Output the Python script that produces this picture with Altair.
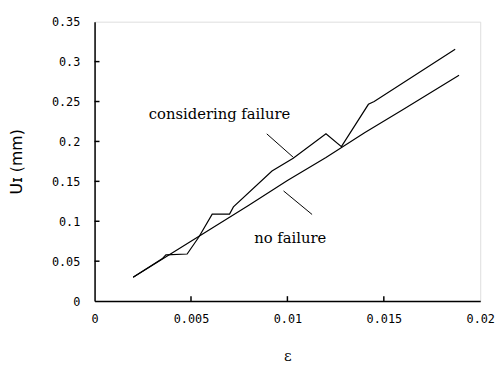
import altair as alt
import pandas as pd

# considering failure
cf_eps = [0.002, 0.0035, 0.0037, 0.0048, 0.0054, 0.0061, 0.0070, 0.0072, 0.0092, 0.0103,
          0.0120, 0.0128, 0.0142, 0.0145, 0.0187]
cf_u = [0.030, 0.053, 0.058, 0.059, 0.080, 0.109, 0.109, 0.118, 0.163, 0.179,
        0.2095, 0.1935, 0.2465, 0.250, 0.3155]
# no failure
nf_eps = [0.002, 0.004, 0.006, 0.008, 0.010, 0.012, 0.014, 0.016, 0.0189]
nf_u = [0.030, 0.060, 0.090, 0.120, 0.151, 0.180, 0.211, 0.240, 0.283]

x_ticks = [0.005, 0.01, 0.015]
y_ticks = [0.05, 0.1, 0.15, 0.2, 0.25, 0.3]

labels = ["considering failure", "no failure"]
label_eps = [0.00648, 0.01015]
label_u = [0.234, 0.0789]
leader_eps = [0.00893, 0.01031, 0.0098, 0.01128]
leader_u = [0.2095, 0.180, 0.138, 0.1085]
leader_id = ["a", "a", "b", "b"]

rows = [{"eps": e, "u": u, "s": "cf", "o": i} for i, (e, u) in enumerate(zip(cf_eps, cf_u))]
rows += [{"eps": e, "u": u, "s": "nf", "o": i} for i, (e, u) in enumerate(zip(nf_eps, nf_u))]
df = pd.DataFrame(rows)

xs = alt.Scale(domain=[0, 0.02], nice=False)
ys = alt.Scale(domain=[0, 0.35], nice=False)

base = alt.Chart(df).mark_line(color="black", strokeWidth=1.2).encode(
    x=alt.X("eps:Q", scale=xs, axis=alt.Axis(
        title="ε", values=[0, 0.005, 0.01, 0.015, 0.02], format=".3~f", ticks=False, grid=False,
        labelFont="DejaVu Sans Mono", labelFontSize=12, labelColor="black",
        labelPadding=13, labelFlush=False,
        titleFont="DejaVu Serif", titleFontSize=15, titleFontWeight="normal",
        titleColor="black", titleY=55, titleBaseline="middle",
        domainColor="black", domainWidth=1.5)),
    y=alt.Y("u:Q", scale=ys, axis=alt.Axis(
        title="Uɪ (mm)", values=[0, 0.05, 0.1, 0.15, 0.2, 0.25, 0.3, 0.35], format=".2~f",
        ticks=False, grid=False, labelFont="DejaVu Sans Mono", labelFontSize=12,
        labelColor="black", labelPadding=15, labelFlush=False,
        titleFont="DejaVu Sans", titleFontSize=16, titleFontWeight="normal",
        titleColor="black", titleX=-79, titleY=142, titleAngle=-90,
        titleAlign="center", titleBaseline="middle",
        domainColor="black", domainWidth=1.5)),
    detail="s:N",
    order="o:Q",
)

xt = alt.Chart(pd.DataFrame({"v": x_ticks})).mark_rule(color="black", strokeWidth=1.5).encode(
    x=alt.X("v:Q", scale=xs), y=alt.value(279), y2=alt.value(284))
yt = alt.Chart(pd.DataFrame({"v": y_ticks})).mark_rule(color="black", strokeWidth=1.5).encode(
    y=alt.Y("v:Q", scale=ys), x=alt.value(0), x2=alt.value(5))

lead = alt.Chart(pd.DataFrame({"eps": leader_eps, "u": leader_u, "id": leader_id})).mark_line(
    color="black", strokeWidth=1).encode(
    x=alt.X("eps:Q", scale=xs), y=alt.Y("u:Q", scale=ys), detail="id:N")

txt = alt.Chart(pd.DataFrame({"eps": label_eps, "u": label_u, "t": labels})).mark_text(
    font="DejaVu Serif", fontSize=15, color="black", align="center", baseline="middle").encode(
    x=alt.X("eps:Q", scale=xs), y=alt.Y("u:Q", scale=ys), text="t:N")

chart = alt.layer(base, xt, yt, lead, txt).properties(
    width=392, height=284,
    autosize=alt.AutoSizeParams(type="none"),
    padding={"left": 88, "top": 11, "right": 15, "bottom": 60},
).configure_view(stroke="black", strokeWidth=1.5).configure(background="white")

chart.save("out.html", embed_options={"renderer": "svg", "actions": False})
